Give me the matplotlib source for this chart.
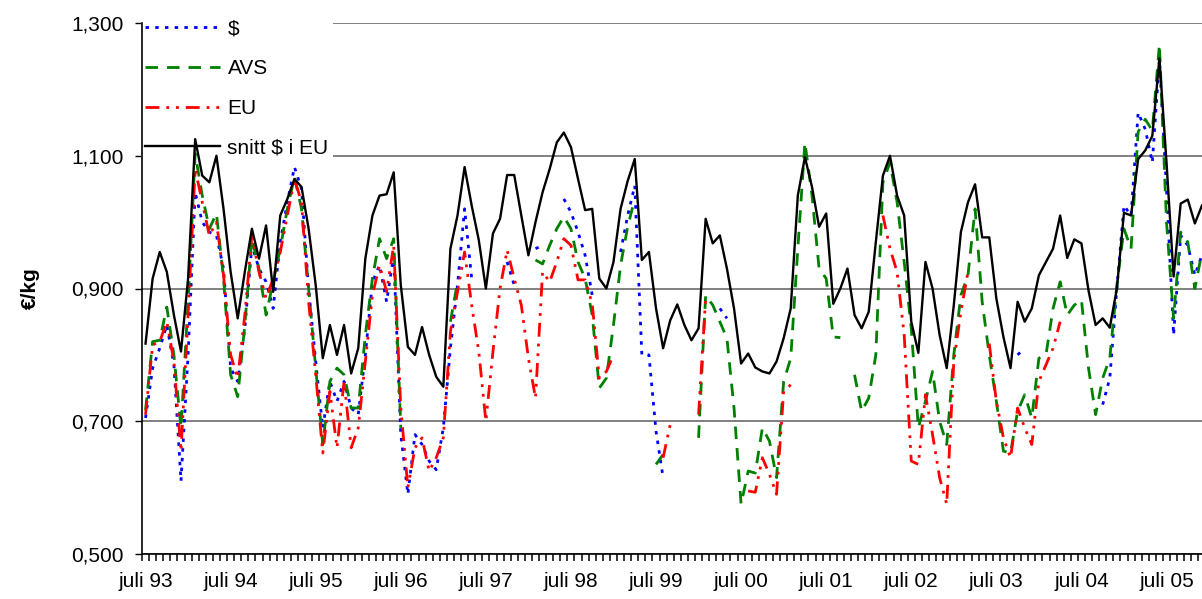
import numpy as np
import matplotlib
matplotlib.use("Agg")
import matplotlib.pyplot as plt
from matplotlib.ticker import FixedLocator, FuncFormatter

nan = np.nan

# monthly prices, juli 93 .. nov 05 (EUR/kg)
dollar = [
    0.705, 0.78, 0.81, 0.845, 0.785, 0.61, 0.80, 1.045, 1.00, 0.985,
    0.98, 0.93, 0.78, 0.76, 0.84, 0.965, 0.93, 0.91, 0.87, 0.97,
    1.03, 1.083, 1.05, 0.90, 0.79, 0.69, 0.76, 0.73, 0.76, 0.72,
    0.71, 0.80, 0.91, 0.935, 0.88, 0.95, 0.68, 0.59, 0.68, 0.665,
    0.64, 0.627, 0.69, 0.81, 0.905, 1.02, 0.915, nan, nan, nan,
    nan, 0.94, 0.905, nan, nan, 0.96, 0.965, nan, nan, 1.035,
    1.015, 0.985, 0.95, 0.89, nan, nan, nan, 0.955, 1.01, 1.055,
    0.80, 0.80, 0.685, 0.615, nan, nan, nan, nan, nan, nan,
    nan, 0.87, 0.855, nan, nan, nan, nan, nan, nan, nan,
    nan, nan, nan, nan, nan, nan, nan, nan, nan, nan,
    nan, nan, nan, nan, nan, nan, nan, nan, nan, nan,
    nan, nan, nan, nan, nan, nan, nan, nan, nan, nan,
    nan, nan, nan, 0.80, 0.81, nan, nan, nan, nan, nan,
    nan, nan, nan, nan, nan, 0.725, 0.765, 0.90, 1.025, 1.01,
    1.165, 1.14, 1.09, 1.245, 1.05, 0.83, 0.98, 0.965, 0.92, 0.95,
]

avs = [
    0.717, 0.82, 0.822, 0.872, 0.80, 0.69, 0.88, 1.103, 1.04, 0.99,
    1.013, 0.915, 0.77, 0.737, 0.845, 0.975, 0.93, 0.86, 0.91, 0.96,
    1.02, 1.068, 1.02, 0.90, 0.78, 0.665, 0.76, 0.78, 0.77, 0.72,
    0.72, 0.83, 0.915, 0.975, 0.945, 0.975, 0.69, nan, nan, nan,
    nan, nan, nan, 0.85, 0.91, nan, nan, nan, nan, nan,
    nan, nan, nan, nan, nan, 0.943, 0.937, 0.965, 0.99, 1.008,
    0.99, 0.94, 0.915, 0.86, 0.75, 0.765, 0.845, 0.935, 0.993, 1.035,
    nan, nan, 0.635, 0.65, nan, nan, nan, nan, 0.675, 0.89,
    0.875, 0.85, 0.825, 0.72, 0.575, 0.625, 0.622, 0.69, 0.67, 0.615,
    0.76, 0.795, 0.96, 1.12, 1.04, 0.93, 0.915, 0.827, 0.826, nan,
    0.77, 0.715, 0.735, 0.80, 1.06, 1.09, 1.03, 0.94, 0.84, 0.69,
    0.73, 0.775, 0.70, 0.665, 0.80, 0.89, 0.92, 1.02, 0.88, 0.80,
    0.73, 0.655, 0.652, 0.715, 0.74, 0.705, 0.795, 0.80, 0.87, 0.91,
    0.86, 0.875, 0.883, 0.78, 0.71, 0.765, 0.795, 0.905, 0.99, 0.96,
    1.136, 1.155, 1.138, 1.268, 1.0, 0.855, 0.985, 0.97, 0.90, 0.955,
]

eu = [
    0.71, 0.815, 0.82, 0.85, 0.79, 0.655, 0.86, 1.08, 1.03, 0.98,
    1.00, 0.92, 0.80, 0.765, 0.86, 0.98, 0.925, 0.885, 0.915, 0.955,
    1.01, 1.065, 1.03, 0.88, 0.77, 0.652, 0.745, 0.66, 0.76, 0.66,
    0.69, 0.79, 0.89, 0.935, 0.895, 0.965, 0.72, 0.60, 0.66, 0.675,
    0.625, 0.645, 0.675, 0.835, 0.895, 0.955, 0.875, 0.805, 0.70, 0.805,
    0.90, 0.958, 0.915, 0.875, 0.795, 0.735, 0.925, 0.91, 0.94, 0.975,
    0.965, 0.913, 0.913, 0.877, 0.765, 0.775, 0.80, nan, nan, nan,
    nan, nan, nan, 0.645, 0.695, nan, nan, nan, 0.71, 0.885,
    nan, nan, nan, nan, nan, 0.595, 0.593, 0.645, 0.62, 0.59,
    0.745, 0.755, nan, nan, nan, nan, nan, nan, nan, nan,
    nan, nan, nan, nan, 1.01, 0.96, 0.925, 0.83, 0.64, 0.635,
    0.74, 0.68, 0.615, 0.575, 0.79, 0.865, 0.925, nan, nan, 0.817,
    0.73, 0.675, 0.645, 0.72, 0.69, 0.665, 0.76, 0.785, 0.81, 0.85,
    nan, nan, nan, nan, nan, nan, nan, nan, nan, nan,
    nan, nan, nan, nan, nan, nan, nan, nan, nan, nan,
]

snitt = [
    0.817, 0.915, 0.955, 0.925, 0.86, 0.805, 0.915, 1.125, 1.07, 1.06,
    1.10, 1.02, 0.925, 0.855, 0.925, 0.99, 0.945, 0.995, 0.895, 1.01,
    1.035, 1.065, 1.053, 0.99, 0.905, 0.795, 0.845, 0.80, 0.845, 0.772,
    0.81, 0.945, 1.01, 1.04, 1.042, 1.075, 0.905, 0.812, 0.80, 0.842,
    0.80, 0.767, 0.752, 0.96, 1.01, 1.083, 1.025, 0.973, 0.90, 0.983,
    1.005, 1.071, 1.071, 1.01, 0.95, 1.0, 1.045, 1.08, 1.12, 1.135,
    1.113, 1.065, 1.018, 1.02, 0.915, 0.90, 0.94, 1.02, 1.062, 1.095,
    0.943, 0.955, 0.87, 0.81, 0.852, 0.876, 0.845, 0.822, 0.84, 1.005,
    0.968, 0.98, 0.93, 0.87, 0.787, 0.802, 0.781, 0.775, 0.772, 0.79,
    0.825, 0.87, 1.04, 1.098, 1.053, 0.993, 1.013, 0.877, 0.90, 0.93,
    0.86, 0.84, 0.865, 0.97, 1.07, 1.10, 1.04, 1.01, 0.85, 0.803,
    0.94, 0.90, 0.83, 0.78, 0.875, 0.985, 1.03, 1.057, 0.977, 0.977,
    0.885, 0.827, 0.78, 0.88, 0.85, 0.87, 0.92, 0.94, 0.96, 1.01,
    0.946, 0.974, 0.968, 0.897, 0.845, 0.855, 0.841, 0.90, 1.014, 1.01,
    1.095, 1.108, 1.13, 1.247, 1.09, 0.918, 1.028, 1.034, 0.998, 1.025,
]

year_labels = ["juli 93", "juli 94", "juli 95", "juli 96", "juli 97",
               "juli 98", "juli 99", "juli 00", "juli 01", "juli 02",
               "juli 03", "juli 04", "juli 05"]

plt.rcParams['font.family'] = ['Liberation Sans', 'DejaVu Sans']
plt.rcParams['lines.scale_dashes'] = False

W, H = 1202, 599
fig = plt.figure(figsize=(W / 100, H / 100), dpi=100)
ax = fig.add_axes([142 / W, 45 / H, (W - 142) / W, 531 / H])

x = np.arange(len(snitt))
ax.plot(x, dollar, color='#0000ff', lw=2.0, dashes=(2.5, 4.5), label='$', zorder=3)
ax.plot(x, avs, color='#008000', lw=2.0, dashes=(9, 6.5), label='AVS', zorder=4)
ax.plot(x, eu, color='#ff0000', lw=2.0, dashes=(10, 5, 2, 5, 2, 5), label='EU', zorder=5)
ax.plot(x, snitt, color='black', lw=1.7, label='snitt $ i EU', zorder=6)

ax.set_xlim(-0.5, -0.5 + (W - 142) / 7.09)
ax.set_ylim(0.5, 1.3)

# y axis
ax.yaxis.set_major_locator(FixedLocator([0.5, 0.7, 0.9, 1.1, 1.3]))
ax.yaxis.set_major_formatter(FuncFormatter(lambda v, p: f"{v:.3f}".replace('.', ',')))
ax.tick_params(axis='y', which='major', length=5, width=1, direction='out',
               labelsize=15, pad=8, colors='black')
ax.set_axisbelow(True)
ax.yaxis.grid(True, color='#808080', lw=1.4)
ax.set_ylabel('€/kg', fontsize=15, fontweight='bold')
ax.yaxis.set_label_coords(-0.096, 0.5)

# x axis: one tick per month, labels every July
ax.xaxis.set_major_locator(FixedLocator(np.arange(0, len(snitt), 12)))
ax.set_xticklabels(year_labels)
ax.xaxis.set_minor_locator(FixedLocator(np.arange(-0.5, len(snitt) + 1, 1)))
ax.tick_params(axis='x', which='major', length=0, labelsize=15, pad=13)
ax.tick_params(axis='x', which='minor', length=5, width=1.1, direction='out', colors='black')

for s in ['top', 'right']:
    ax.spines[s].set_visible(False)
for s in ['left', 'bottom']:
    ax.spines[s].set_color('black')
    ax.spines[s].set_linewidth(1.2)

leg = ax.legend(loc='upper left', bbox_to_anchor=(141 / W, 1 - 15 / H),
                bbox_transform=fig.transFigure, fontsize=15, frameon=True,
                handlelength=3.6, handletextpad=0.35, labelspacing=1.0,
                borderpad=0.2, borderaxespad=0, fancybox=False)
leg.get_frame().set_facecolor('white')
leg.get_frame().set_edgecolor('none')
leg.get_frame().set_alpha(1)
leg.set_zorder(2)

fig.savefig('out.png', dpi=100)
